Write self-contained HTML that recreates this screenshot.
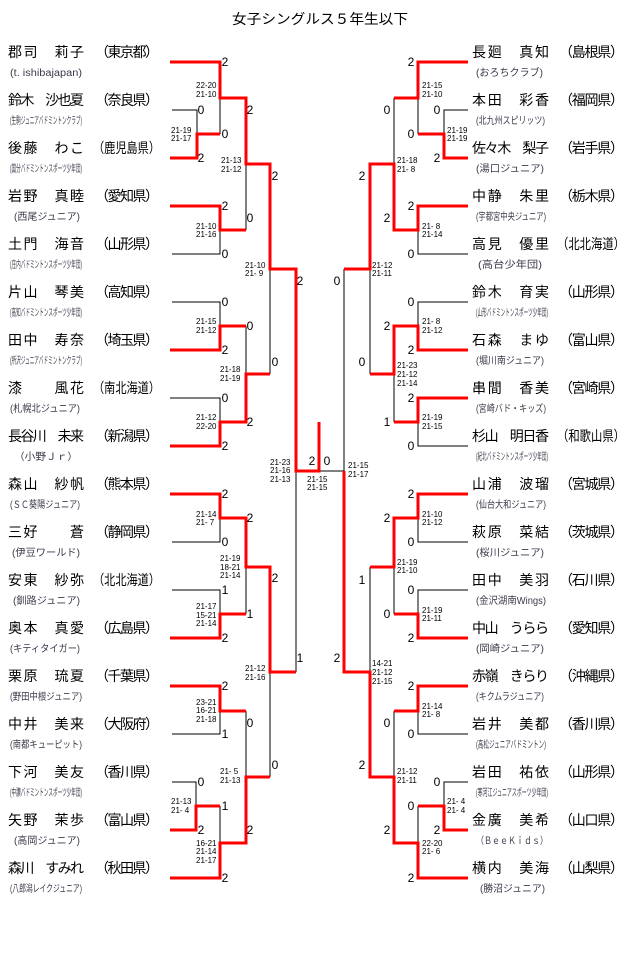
<!DOCTYPE html>
<html><head><meta charset="utf-8"><style>
html,body{margin:0;padding:0;background:#fff;}
svg{display:block;}
.n{font-family:"Liberation Sans","Noto Sans CJK JP",sans-serif;font-size:14px;fill:#000;}
.c{font-family:"Liberation Sans","Noto Sans CJK JP",sans-serif;font-size:10px;fill:#3a3a4a;}
.s{font-family:"Liberation Sans",sans-serif;font-size:8px;fill:#000;}
.d{font-family:"Liberation Sans",sans-serif;font-size:12px;fill:#000;text-anchor:middle;}
.r{stroke:#f00;stroke-width:3;fill:none;}
.b{stroke:#000;stroke-width:1;fill:none;}
</style></head><body>
<svg width="640" height="957" viewBox="0 0 640 957" xmlns="http://www.w3.org/2000/svg">
<text x="232" y="24" class="n" textLength="176" lengthAdjust="spacingAndGlyphs">女子シングルス５年生以下</text>

<!-- LEFT names -->
<g class="n">
<text x="8" y="57" textLength="76" lengthAdjust="spacing">郡司　莉子</text><text x="95" y="57" textLength="64" lengthAdjust="spacing">（東京都）</text>
<text x="8" y="105" textLength="76" lengthAdjust="spacing">鈴木　沙也夏</text><text x="95" y="105" textLength="64" lengthAdjust="spacing">（奈良県）</text>
<text x="8" y="153" textLength="76" lengthAdjust="spacing">後藤　わこ</text><text x="93" y="153" textLength="67" lengthAdjust="spacingAndGlyphs">（鹿児島県）</text>
<text x="8" y="201" textLength="76" lengthAdjust="spacing">岩野　真睦</text><text x="95" y="201" textLength="64" lengthAdjust="spacing">（愛知県）</text>
<text x="8" y="249" textLength="76" lengthAdjust="spacing">土門　海音</text><text x="95" y="249" textLength="64" lengthAdjust="spacing">（山形県）</text>
<text x="8" y="297" textLength="76" lengthAdjust="spacing">片山　琴美</text><text x="95" y="297" textLength="64" lengthAdjust="spacing">（高知県）</text>
<text x="8" y="345" textLength="76" lengthAdjust="spacing">田中　寿奈</text><text x="95" y="345" textLength="64" lengthAdjust="spacing">（埼玉県）</text>
<text x="8" y="393" textLength="76" lengthAdjust="spacing">漆　　風花</text><text x="93" y="393" textLength="67" lengthAdjust="spacingAndGlyphs">（南北海道）</text>
<text x="8" y="441" textLength="76" lengthAdjust="spacing">長谷川　未来</text><text x="95" y="441" textLength="64" lengthAdjust="spacing">（新潟県）</text>
<text x="8" y="489" textLength="76" lengthAdjust="spacing">森山　紗帆</text><text x="95" y="489" textLength="64" lengthAdjust="spacing">（熊本県）</text>
<text x="8" y="537" textLength="76" lengthAdjust="spacing">三好　　蒼</text><text x="95" y="537" textLength="64" lengthAdjust="spacing">（静岡県）</text>
<text x="8" y="585" textLength="76" lengthAdjust="spacing">安東　紗弥</text><text x="93" y="585" textLength="67" lengthAdjust="spacingAndGlyphs">（北北海道）</text>
<text x="8" y="633" textLength="76" lengthAdjust="spacing">奥本　真愛</text><text x="95" y="633" textLength="64" lengthAdjust="spacing">（広島県）</text>
<text x="8" y="681" textLength="76" lengthAdjust="spacing">栗原　琉夏</text><text x="95" y="681" textLength="64" lengthAdjust="spacing">（千葉県）</text>
<text x="8" y="729" textLength="76" lengthAdjust="spacing">中井　美来</text><text x="95" y="729" textLength="64" lengthAdjust="spacing">（大阪府）</text>
<text x="8" y="777" textLength="76" lengthAdjust="spacing">下河　美友</text><text x="95" y="777" textLength="64" lengthAdjust="spacing">（香川県）</text>
<text x="8" y="825" textLength="76" lengthAdjust="spacing">矢野　茉歩</text><text x="95" y="825" textLength="64" lengthAdjust="spacing">（富山県）</text>
<text x="8" y="873" textLength="76" lengthAdjust="spacing">森川　すみれ</text><text x="95" y="873" textLength="64" lengthAdjust="spacing">（秋田県）</text>
</g>
<g class="c">
<text x="10" y="76" textLength="72" lengthAdjust="spacingAndGlyphs">(t. ishibajapan)</text>
<text x="10" y="124" textLength="72" lengthAdjust="spacingAndGlyphs">(生駒ジュニアバドミントンクラブ)</text>
<text x="10" y="172" textLength="72" lengthAdjust="spacingAndGlyphs">(国分バドミントンスポーツ少年団)</text>
<text x="14" y="220" textLength="66" lengthAdjust="spacingAndGlyphs">(西尾ジュニア)</text>
<text x="10" y="268" textLength="72" lengthAdjust="spacingAndGlyphs">(庄内バドミントンスポーツ少年団)</text>
<text x="10" y="316" textLength="72" lengthAdjust="spacingAndGlyphs">(高知バドミントンスポーツ少年団)</text>
<text x="10" y="364" textLength="72" lengthAdjust="spacingAndGlyphs">(所沢ジュニアバドミントンクラブ)</text>
<text x="10" y="412" textLength="70" lengthAdjust="spacingAndGlyphs">(札幌北ジュニア)</text>
<text x="14" y="460" textLength="64" lengthAdjust="spacingAndGlyphs">（小野Ｊｒ）</text>
<text x="10" y="508" textLength="70" lengthAdjust="spacingAndGlyphs">(ＳＣ葵陽ジュニア)</text>
<text x="12" y="556" textLength="68" lengthAdjust="spacingAndGlyphs">(伊豆ワールド)</text>
<text x="13" y="604" textLength="67" lengthAdjust="spacingAndGlyphs">(釧路ジュニア)</text>
<text x="10" y="652" textLength="70" lengthAdjust="spacingAndGlyphs">(キティタイガー)</text>
<text x="10" y="700" textLength="72" lengthAdjust="spacingAndGlyphs">(野田中根ジュニア)</text>
<text x="10" y="748" textLength="72" lengthAdjust="spacingAndGlyphs">(南都キューピット)</text>
<text x="10" y="796" textLength="72" lengthAdjust="spacingAndGlyphs">(中讃バドミントンスポーツ少年団)</text>
<text x="14" y="844" textLength="66" lengthAdjust="spacingAndGlyphs">(高岡ジュニア)</text>
<text x="10" y="892" textLength="72" lengthAdjust="spacingAndGlyphs">(八郎潟レイクジュニア)</text>
</g>

<!-- RIGHT names -->
<g class="n">
<text x="472" y="57" textLength="77" lengthAdjust="spacing">長廻　真知</text><text x="559" y="57" textLength="65" lengthAdjust="spacing">（島根県）</text>
<text x="472" y="105" textLength="77" lengthAdjust="spacing">本田　彩香</text><text x="559" y="105" textLength="65" lengthAdjust="spacing">（福岡県）</text>
<text x="472" y="153" textLength="77" lengthAdjust="spacing">佐々木　梨子</text><text x="559" y="153" textLength="65" lengthAdjust="spacing">（岩手県）</text>
<text x="472" y="201" textLength="77" lengthAdjust="spacing">中静　朱里</text><text x="559" y="201" textLength="65" lengthAdjust="spacing">（栃木県）</text>
<text x="472" y="249" textLength="77" lengthAdjust="spacing">高見　優里</text><text x="557" y="249" textLength="68" lengthAdjust="spacingAndGlyphs">（北北海道）</text>
<text x="472" y="297" textLength="77" lengthAdjust="spacing">鈴木　育実</text><text x="559" y="297" textLength="65" lengthAdjust="spacing">（山形県）</text>
<text x="472" y="345" textLength="77" lengthAdjust="spacing">石森　まゆ</text><text x="559" y="345" textLength="65" lengthAdjust="spacing">（富山県）</text>
<text x="472" y="393" textLength="77" lengthAdjust="spacing">串間　香美</text><text x="559" y="393" textLength="65" lengthAdjust="spacing">（宮崎県）</text>
<text x="472" y="441" textLength="77" lengthAdjust="spacing">杉山　明日香</text><text x="557" y="441" textLength="68" lengthAdjust="spacingAndGlyphs">（和歌山県）</text>
<text x="472" y="489" textLength="77" lengthAdjust="spacing">山浦　波瑠</text><text x="559" y="489" textLength="65" lengthAdjust="spacing">（宮城県）</text>
<text x="472" y="537" textLength="77" lengthAdjust="spacing">萩原　菜結</text><text x="559" y="537" textLength="65" lengthAdjust="spacing">（茨城県）</text>
<text x="472" y="585" textLength="77" lengthAdjust="spacing">田中　美羽</text><text x="559" y="585" textLength="65" lengthAdjust="spacing">（石川県）</text>
<text x="472" y="633" textLength="77" lengthAdjust="spacing">中山　うらら</text><text x="559" y="633" textLength="65" lengthAdjust="spacing">（愛知県）</text>
<text x="472" y="681" textLength="77" lengthAdjust="spacing">赤嶺　きらり</text><text x="559" y="681" textLength="65" lengthAdjust="spacing">（沖縄県）</text>
<text x="472" y="729" textLength="77" lengthAdjust="spacing">岩井　美都</text><text x="559" y="729" textLength="65" lengthAdjust="spacing">（香川県）</text>
<text x="472" y="777" textLength="77" lengthAdjust="spacing">岩田　祐依</text><text x="559" y="777" textLength="65" lengthAdjust="spacing">（山形県）</text>
<text x="472" y="825" textLength="77" lengthAdjust="spacing">金廣　美希</text><text x="559" y="825" textLength="65" lengthAdjust="spacing">（山口県）</text>
<text x="472" y="873" textLength="77" lengthAdjust="spacing">横内　美海</text><text x="559" y="873" textLength="65" lengthAdjust="spacing">（山梨県）</text>
</g>
<g class="c">
<text x="476" y="76" textLength="67" lengthAdjust="spacingAndGlyphs">(おろちクラブ)</text>
<text x="476" y="124" textLength="69" lengthAdjust="spacingAndGlyphs">(北九州スピリッツ)</text>
<text x="476" y="172" textLength="68" lengthAdjust="spacingAndGlyphs">(湯口ジュニア)</text>
<text x="476" y="220" textLength="70" lengthAdjust="spacingAndGlyphs">(宇都宮中央ジュニア)</text>
<text x="478" y="268" textLength="64" lengthAdjust="spacingAndGlyphs">(高台少年団)</text>
<text x="476" y="316" textLength="72" lengthAdjust="spacingAndGlyphs">(山形バドミントンスポーツ少年団)</text>
<text x="476" y="364" textLength="68" lengthAdjust="spacingAndGlyphs">(堀川南ジュニア)</text>
<text x="476" y="412" textLength="70" lengthAdjust="spacingAndGlyphs">(宮崎バド・キッズ)</text>
<text x="476" y="460" textLength="72" lengthAdjust="spacingAndGlyphs">(紀北バドミントンスポーツ少年団)</text>
<text x="476" y="508" textLength="70" lengthAdjust="spacingAndGlyphs">(仙台大和ジュニア)</text>
<text x="476" y="556" textLength="68" lengthAdjust="spacingAndGlyphs">(桜川ジュニア)</text>
<text x="476" y="604" textLength="70" lengthAdjust="spacingAndGlyphs">(金沢湖南Wings)</text>
<text x="476" y="652" textLength="68" lengthAdjust="spacingAndGlyphs">(岡崎ジュニア)</text>
<text x="476" y="700" textLength="68" lengthAdjust="spacingAndGlyphs">(キクムラジュニア)</text>
<text x="476" y="748" textLength="70" lengthAdjust="spacingAndGlyphs">(高松ジュニアバドミントン)</text>
<text x="476" y="796" textLength="72" lengthAdjust="spacingAndGlyphs">(寒河江ジュニアスポーツ少年団)</text>
<text x="476" y="844" textLength="72" lengthAdjust="spacingAndGlyphs">（ＢｅｅＫｉｄｓ）</text>
<text x="480" y="892" textLength="65" lengthAdjust="spacingAndGlyphs">(勝沼ジュニア)</text>
</g>

<!-- LEFT lines -->
<g>
<path class="b" d="M172 110H197V134 M172 254H220V230 M172 302H220V326 M170 398H220V422 M172 542H220V518 M172 590H220V614 M172 734H220V711 M172 782H196V806 M220 98V134 M220 806V843 M246 164V230 M246 326V374 M246 567V614 M246 711V777 M270 269V374 M270 672V777 M296 471V672 M319 471H344 M344 269V471"/>
<path class="r" d="M170 62H220V98H246V164H270V269H296V471H319V422"/>
<path class="r" d="M170 158H197V134H220"/>
<path class="r" d="M170 206H220V230H246"/>
<path class="r" d="M170 350H220V326H246"/>
<path class="r" d="M170 446H220V422H246V374H270"/>
<path class="r" d="M170 494H220V518H246V567H270V672H296"/>
<path class="r" d="M170 638H220V614H246"/>
<path class="r" d="M170 686H220V711H246"/>
<path class="r" d="M170 830H196V806H220"/>
<path class="r" d="M170 878H220V843H246V777H270"/>
</g>
<!-- RIGHT lines -->
<g>
<path class="b" d="M468 110H444V134 M468 254H418V230 M468 302H418V326 M468 446H418V422 M468 542H418V518 M468 590H418V614 M468 734H418V711 M468 782H444V806 M418 98V134 M418 806V843 M394 98V164 M394 374V422 M394 567V614 M394 711V777 M370 269V374 M370 567V672"/>
<path class="r" d="M468 62H418V98H394"/>
<path class="r" d="M468 158H444V134H418"/>
<path class="r" d="M468 206H418V230H394V164H370V269H344"/>
<path class="r" d="M468 350H418V326H394V374H370"/>
<path class="r" d="M468 398H418V422H394"/>
<path class="r" d="M468 494H418V518H394V567H370"/>
<path class="r" d="M468 638H418V614H394"/>
<path class="r" d="M344 471V672H370V777H394V843H418V878H468"/>
<path class="r" d="M468 686H418V711H394"/>
<path class="r" d="M468 830H444V806H418"/>
</g>

<!-- digits -->
<g class="d" dominant-baseline="central">
<text x="225" y="62">2</text><text x="201" y="110">0</text><text x="225" y="134">0</text><text x="201" y="158">2</text>
<text x="250" y="110">2</text><text x="275" y="176">2</text><text x="225" y="206">2</text><text x="250" y="218">0</text><text x="225" y="254">0</text>
<text x="300" y="281">2</text><text x="225" y="302">0</text><text x="250" y="326">0</text><text x="225" y="350">2</text><text x="275" y="362">0</text>
<text x="225" y="398">0</text><text x="250" y="422">2</text><text x="225" y="446">2</text>
<text x="312" y="461">2</text><text x="327" y="461">0</text>
<text x="225" y="494">2</text><text x="250" y="518">2</text><text x="225" y="542">0</text><text x="275" y="578">2</text><text x="225" y="590">1</text><text x="250" y="614">1</text><text x="225" y="638">2</text><text x="300" y="658">1</text>
<text x="225" y="686">2</text><text x="250" y="723">0</text><text x="225" y="734">1</text><text x="275" y="765">0</text><text x="201" y="782">0</text><text x="225" y="806">1</text><text x="201" y="830">2</text><text x="250" y="830">2</text><text x="225" y="878">2</text>
<text x="411" y="62">2</text><text x="387" y="110">0</text><text x="437" y="110">0</text><text x="411" y="134">0</text><text x="437" y="158">2</text><text x="362" y="176">2</text><text x="411" y="206">2</text><text x="387" y="218">2</text><text x="411" y="254">0</text>
<text x="337" y="281">0</text><text x="411" y="302">0</text><text x="387" y="326">2</text><text x="411" y="350">2</text><text x="362" y="362">0</text><text x="411" y="398">2</text><text x="387" y="422">1</text><text x="411" y="446">0</text>
<text x="411" y="494">2</text><text x="387" y="518">2</text><text x="411" y="542">0</text><text x="362" y="580">1</text><text x="411" y="590">0</text><text x="387" y="614">0</text><text x="411" y="638">2</text><text x="337" y="658">2</text>
<text x="411" y="686">2</text><text x="387" y="723">0</text><text x="411" y="734">0</text><text x="362" y="765">2</text><text x="437" y="782">0</text><text x="411" y="806">0</text><text x="437" y="830">2</text><text x="387" y="830">2</text><text x="411" y="878">2</text>
</g>

<!-- scores -->
<g class="s">
<text x="196" y="88">22-20</text><text x="196" y="97">21-10</text>
<text x="171" y="133">21-19</text><text x="171" y="141">21-17</text>
<text x="221" y="163">21-13</text><text x="221" y="172">21-12</text>
<text x="196" y="229">21-10</text><text x="196" y="237">21-16</text>
<text x="245" y="268">21-10</text><text x="245" y="276">21- 9</text>
<text x="196" y="324">21-15</text><text x="196" y="333">21-12</text>
<text x="220" y="372">21-18</text><text x="220" y="381">21-19</text>
<text x="196" y="420">21-12</text><text x="196" y="429">22-20</text>
<text x="270" y="465">21-23</text><text x="270" y="473">21-16</text><text x="270" y="482">21-13</text>
<text x="307" y="482">21-15</text><text x="307" y="490">21-15</text>
<text x="348" y="468">21-15</text><text x="348" y="477">21-17</text>
<text x="196" y="517">21-14</text><text x="196" y="525">21- 7</text>
<text x="220" y="561">21-19</text><text x="220" y="570">18-21</text><text x="220" y="578">21-14</text>
<text x="196" y="609">21-17</text><text x="196" y="618">15-21</text><text x="196" y="626">21-14</text>
<text x="245" y="671">21-12</text><text x="245" y="680">21-16</text>
<text x="196" y="705">23-21</text><text x="196" y="713">16-21</text><text x="196" y="722">21-18</text>
<text x="220" y="774">21- 5</text><text x="220" y="783">21-13</text>
<text x="171" y="804">21-13</text><text x="171" y="813">21- 4</text>
<text x="196" y="846">16-21</text><text x="196" y="854">21-14</text><text x="196" y="863">21-17</text>
<text x="422" y="88">21-15</text><text x="422" y="97">21-10</text>
<text x="447" y="133">21-19</text><text x="447" y="141">21-19</text>
<text x="397" y="163">21-18</text><text x="397" y="172">21- 8</text>
<text x="422" y="229">21- 8</text><text x="422" y="237">21-14</text>
<text x="372" y="268">21-12</text><text x="372" y="276">21-11</text>
<text x="422" y="324">21- 8</text><text x="422" y="333">21-12</text>
<text x="397" y="368">21-23</text><text x="397" y="377">21-12</text><text x="397" y="386">21-14</text>
<text x="422" y="420">21-19</text><text x="422" y="429">21-15</text>
<text x="422" y="517">21-10</text><text x="422" y="525">21-12</text>
<text x="397" y="565">21-19</text><text x="397" y="573">21-10</text>
<text x="422" y="613">21-19</text><text x="422" y="621">21-11</text>
<text x="372" y="666">14-21</text><text x="372" y="675">21-12</text><text x="372" y="684">21-15</text>
<text x="422" y="709">21-14</text><text x="422" y="717">21- 8</text>
<text x="397" y="774">21-12</text><text x="397" y="783">21-11</text>
<text x="447" y="804">21- 4</text><text x="447" y="813">21- 4</text>
<text x="422" y="846">22-20</text><text x="422" y="854">21- 6</text>
</g>
</svg>
</body></html>
